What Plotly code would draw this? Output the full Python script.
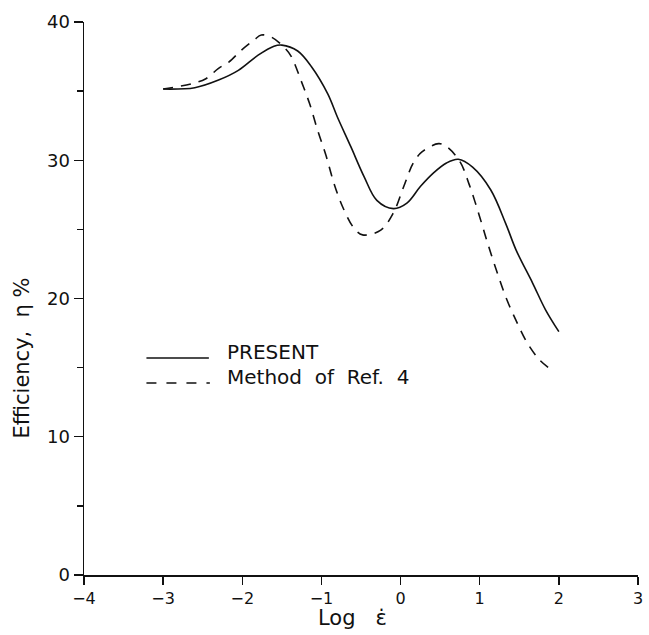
import plotly.graph_objects as go

# Data
present_x = [-3.0, -2.6, -2.3, -2.05, -1.8, -1.6, -1.5, -1.3, -1.13, -0.92, -0.8, -0.63,
             -0.46, -0.3, -0.09, 0.08, 0.25, 0.41, 0.58, 0.73, 0.91, 1.14, 1.33, 1.46,
             1.67, 1.83, 2.0]
present_y = [35.15, 35.25, 35.8, 36.5, 37.6, 38.25, 38.33, 37.9, 36.8, 34.8, 33.15, 31.0,
             28.8, 27.1, 26.5, 26.9, 28.1, 29.05, 29.8, 30.07, 29.5, 27.85, 25.4, 23.5,
             21.1, 19.2, 17.6]

ref4_x = [-3.0, -2.63, -2.46, -2.3, -2.17, -2.01, -1.85, -1.76, -1.63, -1.46, -1.38, -1.26,
          -1.15, -1.05, -0.94, -0.84, -0.73, -0.59, -0.48, -0.25, -0.09, 0.04, 0.16, 0.27,
          0.48, 0.58, 0.75, 0.87, 1.0, 1.10, 1.21, 1.33, 1.46, 1.6, 1.75, 1.87]
ref4_y = [35.15, 35.55, 35.9, 36.65, 37.1, 37.97, 38.7, 39.06, 38.9, 38.1, 37.5, 35.8,
          34.1, 32.2, 30.3, 28.3, 26.6, 25.1, 24.6, 24.95, 26.2, 28.1, 29.8, 30.6,
          31.2, 31.0, 29.9, 28.2, 25.9, 24.0, 22.06, 20.1, 18.4, 16.8, 15.6, 15.0]

x_ticks = [-4, -3, -2, -1, 0, 1, 2, 3]
x_tick_labels = ["\u22124", "\u22123", "\u22122", "\u22121", "0", "1", "2", "3"]
y_ticks = [0, 10, 20, 30, 40]
y_tick_labels = ["0", "10", "20", "30", "40"]

legend_labels = ["PRESENT", "Method\u00a0 of\u00a0 Ref.\u00a0 4"]

FONT = "DejaVu Sans"
INK = "#111111"

L, R, T, B = 84, 6, 22, 60
PW, PH = 649 - L - R, 635 - T - B


def px(xp):
    return (xp - L) / PW


def py(yp):
    return (635 - B - yp) / PH


fig = go.Figure()
fig.add_trace(go.Scatter(x=present_x, y=present_y, mode="lines", line_shape="spline",
                         line=dict(color=INK, width=1.6), name=legend_labels[0],
                         showlegend=False, hoverinfo="skip"))
fig.add_trace(go.Scatter(x=ref4_x, y=ref4_y, mode="lines", line_shape="spline",
                         line=dict(color=INK, width=1.6, dash="10px,8px"),
                         name=legend_labels[1], showlegend=False, hoverinfo="skip"))

# Legend drawn manually (line samples + labels)
fig.add_shape(type="line", xref="paper", yref="paper",
              x0=px(147), x1=px(210), y0=py(358), y1=py(358),
              line=dict(color=INK, width=1.6))
fig.add_shape(type="line", xref="paper", yref="paper",
              x0=px(147), x1=px(211), y0=py(383), y1=py(383),
              line=dict(color=INK, width=1.6, dash="10px,10px"))
fig.add_annotation(xref="paper", yref="paper", x=px(226), y=py(352),
                   text=legend_labels[0], showarrow=False, xanchor="left", yanchor="middle",
                   font=dict(family=FONT, size=20, color=INK))
fig.add_annotation(xref="paper", yref="paper", x=px(226), y=py(377),
                   text=legend_labels[1], showarrow=False, xanchor="left", yanchor="middle",
                   font=dict(family=FONT, size=20, color=INK))

# Axis titles
fig.add_annotation(xref="paper", yref="paper", x=px(318), y=py(618),
                   text="Log\u00a0\u00a0 \u03b5\u0307", showarrow=False, xanchor="left",
                   yanchor="middle", font=dict(family=FONT, size=21, color=INK))
fig.add_annotation(xref="paper", yref="paper", x=px(21), y=py(358),
                   text="Efficiency,\u00a0 \u03b7 %", showarrow=False, textangle=-90,
                   xanchor="center", yanchor="middle",
                   font=dict(family=FONT, size=21, color=INK))

fig.update_xaxes(range=[-4, 3], tickvals=x_ticks, ticktext=x_tick_labels,
                 showline=True, linecolor=INK, linewidth=1.5, ticks="outside", ticklen=8,
                 tickcolor=INK, tickwidth=1.3, showgrid=False, zeroline=False,
                 ticklabeloverflow="allow",
                 tickfont=dict(family=FONT, size=16, color=INK))
fig.update_yaxes(range=[0, 40], tickvals=y_ticks, ticktext=y_tick_labels,
                 showline=True, linecolor=INK, linewidth=1.5, ticks="outside", ticklen=9,
                 tickcolor=INK, tickwidth=1.3, showgrid=False, zeroline=False,
                 minor=dict(tickvals=[5, 15, 25, 35], ticks="outside", ticklen=6,
                            tickcolor=INK, tickwidth=1.3),
                 tickfont=dict(family=FONT, size=18, color=INK))

fig.update_layout(width=649, height=635, margin=dict(l=L, r=R, t=T, b=B),
                  plot_bgcolor="white", paper_bgcolor="white", showlegend=False,
                  hovermode=False)

fig.write_html("out.html", config={"displayModeBar": False, "staticPlot": True},
               post_script="document.body.style.margin='0';document.body.style.overflow='hidden';")
